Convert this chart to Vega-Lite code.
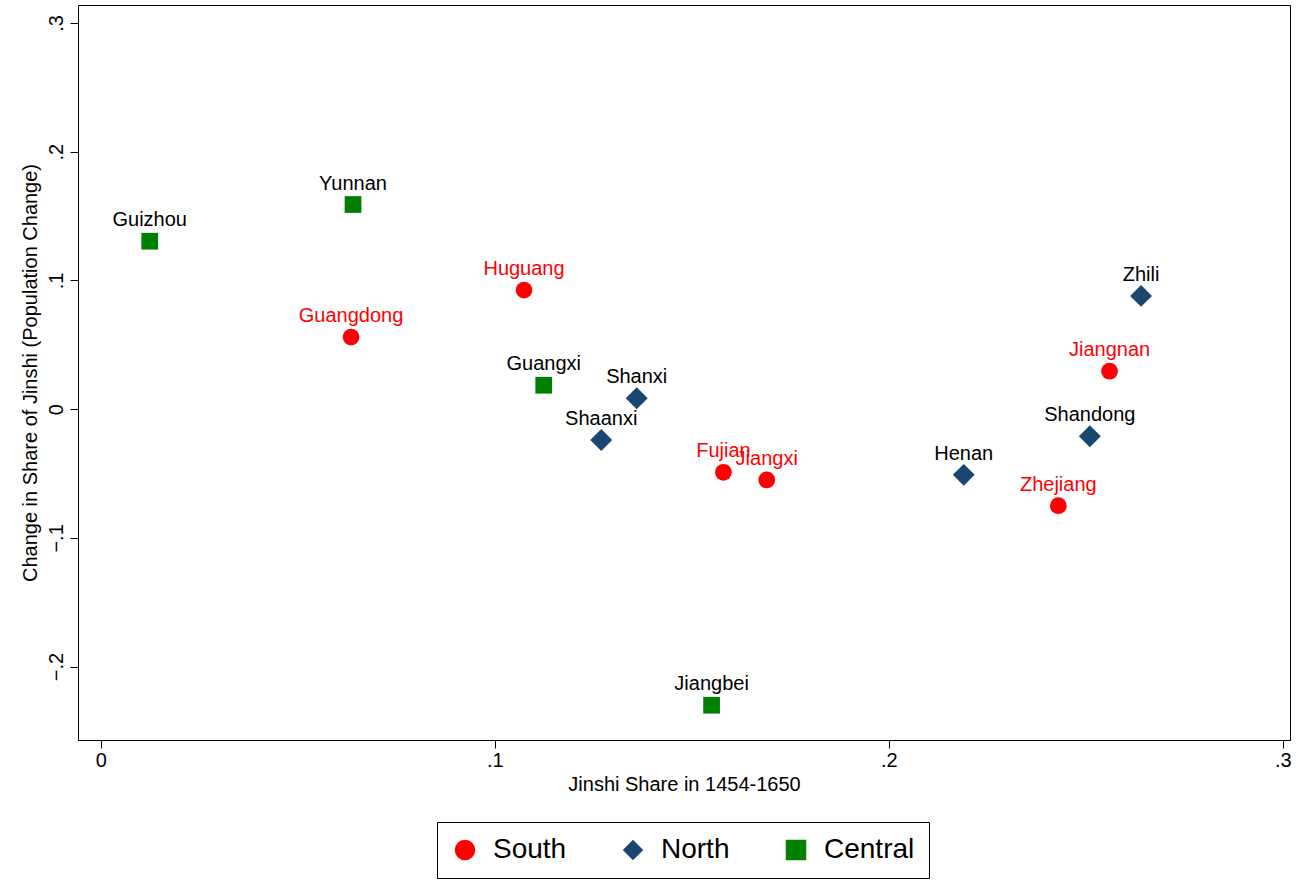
{
  "$schema": "https://vega.github.io/schema/vega-lite/v6.json",
  "width": 1212,
  "height": 735,
  "autosize": {"type": "none"},
  "padding": {"left": 78, "top": 5, "right": 16, "bottom": 142},
  "background": "white",
  "config": {
    "font": "Arial",
    "view": {"stroke": "black", "strokeWidth": 1},
    "axis": {"grid": false, "domainColor": "black", "tickColor": "black", "labelColor": "black", "titleColor": "black", "labelFontSize": 20, "titleFontSize": 20, "titleFontWeight": "normal", "tickSize": 8, "labelFont": "Arial", "titleFont": "Arial"}
  },
  "data": {"values": [
    {"prov": "Guizhou", "region": "Central", "x": 0.0124, "y": 0.1305},
    {"prov": "Yunnan", "region": "Central", "x": 0.064, "y": 0.159},
    {"prov": "Huguang", "region": "South", "x": 0.1074, "y": 0.0925},
    {"prov": "Guangdong", "region": "South", "x": 0.0635, "y": 0.056},
    {"prov": "Guangxi", "region": "Central", "x": 0.1124, "y": 0.0186},
    {"prov": "Shanxi", "region": "North", "x": 0.136, "y": 0.0085},
    {"prov": "Shaanxi", "region": "North", "x": 0.127, "y": -0.024},
    {"prov": "Fujian", "region": "South", "x": 0.158, "y": -0.049},
    {"prov": "Jiangxi", "region": "South", "x": 0.169, "y": -0.055},
    {"prov": "Jiangbei", "region": "Central", "x": 0.155, "y": -0.23},
    {"prov": "Henan", "region": "North", "x": 0.219, "y": -0.051},
    {"prov": "Zhejiang", "region": "South", "x": 0.243, "y": -0.075},
    {"prov": "Shandong", "region": "North", "x": 0.251, "y": -0.021},
    {"prov": "Jiangnan", "region": "South", "x": 0.256, "y": 0.0295},
    {"prov": "Zhili", "region": "North", "x": 0.264, "y": 0.088}
  ]},
  "encoding": {
    "x": {"field": "x", "type": "quantitative", "scale": {"domain": [-0.0058, 0.3018], "nice": false, "zero": false},
      "axis": {"values": [0, 0.1, 0.2, 0.3], "labelExpr": "datum.value == 0 ? '0' : replace(format(datum.value, '.1f'), '0.', '.')", "title": "Jinshi Share in 1454-1650", "titlePadding": 4}},
    "y": {"field": "y", "type": "quantitative", "scale": {"domain": [-0.257, 0.314], "nice": false, "zero": false},
      "axis": {"values": [-0.2, -0.1, 0, 0.1, 0.2, 0.3], "labelAngle": -90, "labelAlign": "center", "labelBaseline": "bottom", "labelPadding": 4, "labelExpr": "datum.value == 0 ? '0' : replace(format(datum.value, '.1f'), '0.', '.')", "title": "Change in Share of Jinshi (Population Change)", "titlePadding": 6}}
  },
  "layer": [
    {
      "mark": {"type": "point", "filled": true, "opacity": 1, "size": 280},
      "encoding": {
        "color": {"field": "region", "type": "nominal", "scale": {"domain": ["South", "North", "Central"], "range": ["#ff0000", "#1a476f", "#008000"]},
          "legend": {"title": null, "orient": "none", "legendX": 359, "legendY": 817, "direction": "horizontal", "labelFontSize": 28, "labelColor": "black", "symbolSize": 420, "strokeColor": "black", "padding": 14, "columnPadding": 52, "labelFont": "Arial", "labelOffset": 14}},
        "shape": {"field": "region", "type": "nominal", "scale": {"domain": ["South", "North", "Central"], "range": ["circle", "diamond", "square"]}},
        "size": {"condition": {"test": "datum.region == 'North'", "value": 480}, "value": 280}
      }
    },
    {
      "mark": {"type": "text", "dy": -21, "fontSize": 20, "font": "Arial"},
      "encoding": {
        "text": {"field": "prov"},
        "color": {"condition": {"test": "datum.region == 'South'", "value": "#ff0000"}, "value": "black"}
      }
    }
  ]
}
